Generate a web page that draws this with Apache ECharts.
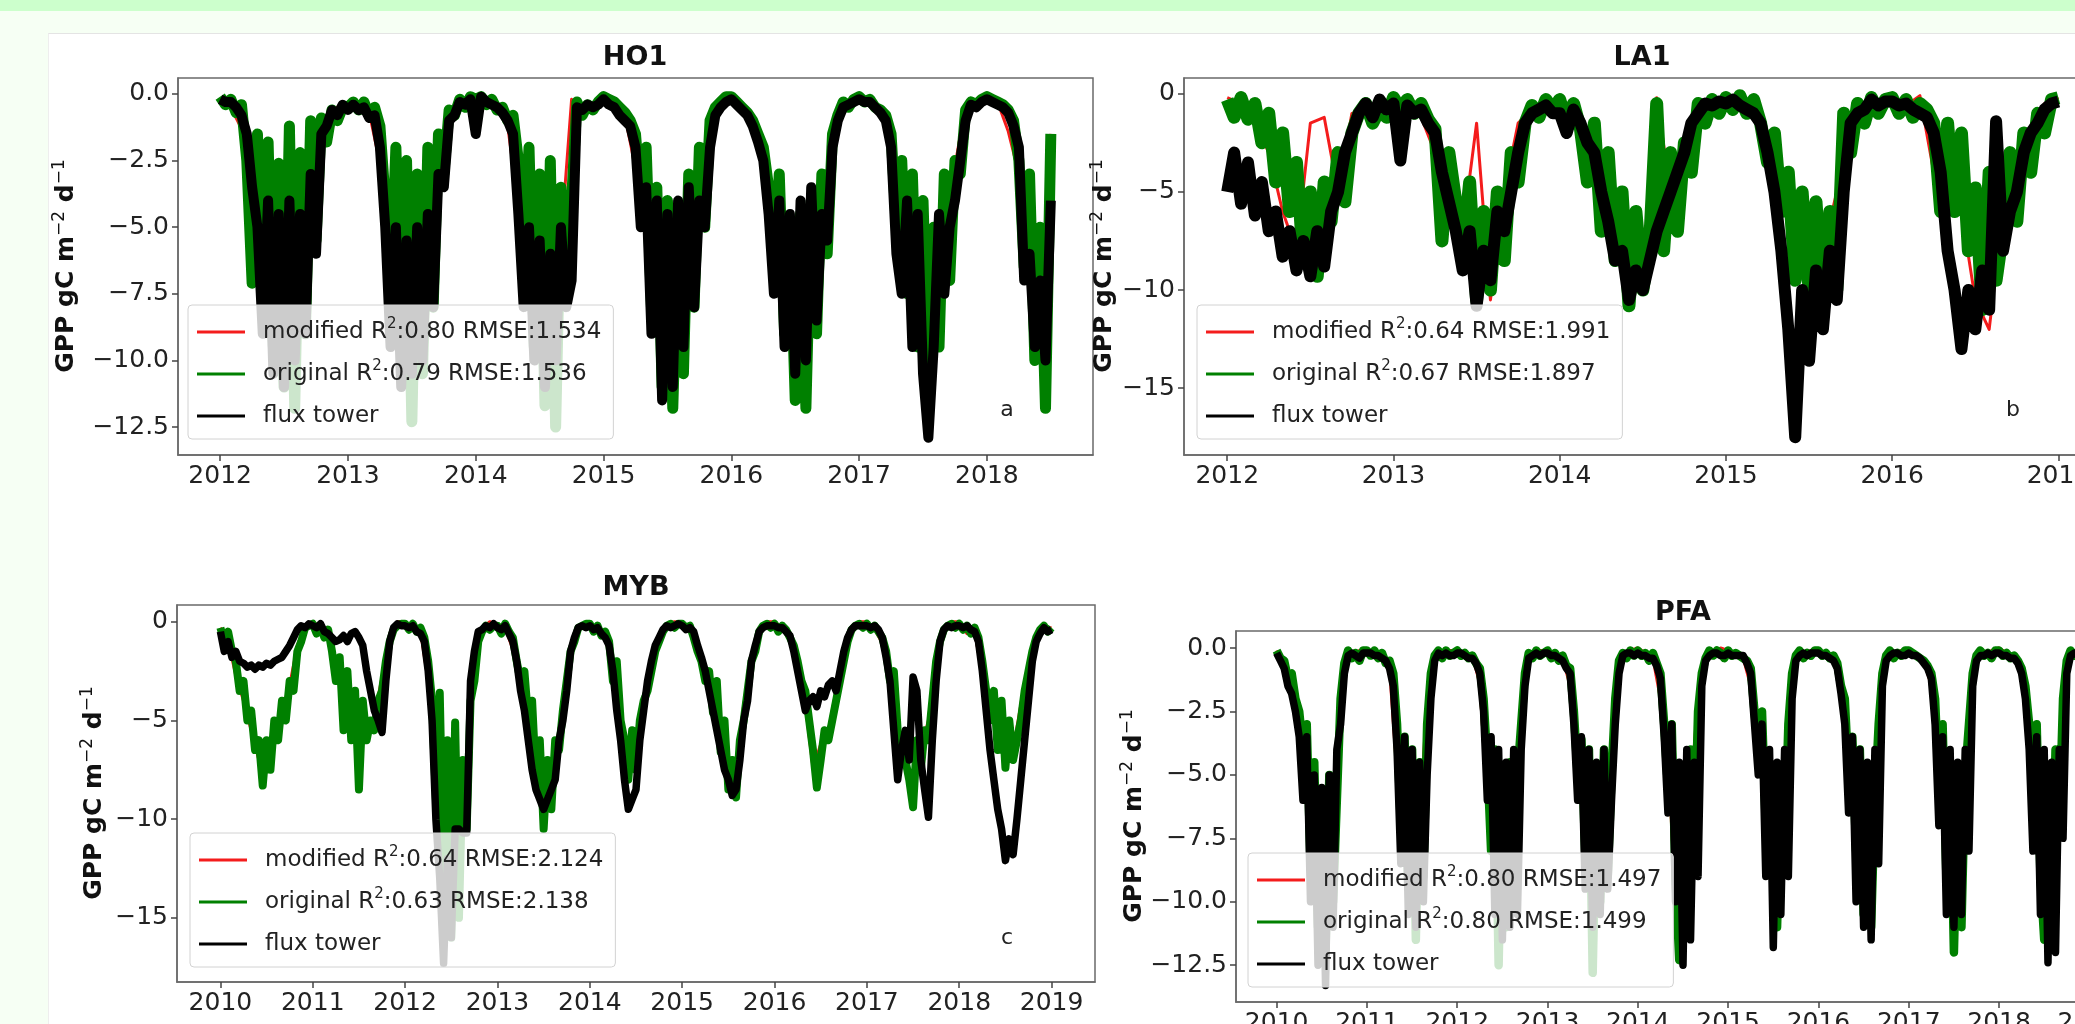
<!DOCTYPE html>
<html>
<head>
<meta charset="utf-8">
<script src="https://cdn.jsdelivr.net/npm/echarts@6/dist/echarts.min.js"></script>
<style>
html,body{margin:0;padding:0;width:2075px;height:1024px;overflow:hidden;background:#f6fff4;}
#band{position:absolute;left:0;top:0;width:2075px;height:11px;background:#ccffcc;}
#panel{position:absolute;left:48px;top:33px;width:2027px;height:991px;background:#ffffff;border-top:1px solid #e4e4e4;border-left:1px solid #eeeeee;}
#chart{position:absolute;left:0;top:0;width:2200px;height:1024px;}
</style>
</head>
<body>
<div id="band"></div>
<div id="panel"></div>
<div id="chart"></div>
<script>
// ---------- tick labels ----------
const ho1XTicks = [2012, 2013, 2014, 2015, 2016, 2017, 2018];
const la1XTicks = [2012, 2013, 2014, 2015, 2016, 2017];
const mybXTicks = [2010, 2011, 2012, 2013, 2014, 2015, 2016, 2017, 2018, 2019];
const pfaXTicks = [2010, 2011, 2012, 2013, 2014, 2015, 2016, 2017, 2018, 2019];
const ho1YTicks = [0, -2.5, -5, -7.5, -10, -12.5];
const la1YTicks = [0, -5, -10, -15];
const mybYTicks = [0, -5, -10, -15];
const pfaYTicks = [0, -2.5, -5, -7.5, -10, -12.5];

// ---------- legend labels ----------
const ho1Labels = ['modified R²:0.80 RMSE:1.534', 'original R²:0.79 RMSE:1.536', 'flux tower'];
const la1Labels = ['modified R²:0.64 RMSE:1.991', 'original R²:0.67 RMSE:1.897', 'flux tower'];
const mybLabels = ['modified R²:0.64 RMSE:2.124', 'original R²:0.63 RMSE:2.138', 'flux tower'];
const pfaLabels = ['modified R²:0.80 RMSE:1.497', 'original R²:0.80 RMSE:1.499', 'flux tower'];

// ---------- series values (GPP, gC m-2 d-1) ----------
// original & flux tower: twice a month from 1 Jan of the start year; modified: monthly
const ho1Original = [
-0.1,-0.4,-0.2,-0.7,-0.4,-2.5,-7.1,-1.5,-7.6,-1.8,-9.5,-2.6,-11.0,-1.2,-11.8,-2.2,-9.0,-1.0,-5.5,-0.9,-1.8,-0.6,-1.0,-0.5,
-0.5,-0.3,-0.6,-0.3,-0.8,-0.5,-1.2,-4.0,-7.5,-2.0,-9.0,-2.5,-12.3,-3.0,-10.5,-2.0,-8.0,-1.5,-3.0,-0.6,-0.8,-0.2,-0.5,-0.1,
-0.2,-0.1,-0.4,-0.2,-0.6,-0.5,-1.0,-0.8,-2.5,-6.0,-2.0,-9.5,-3.0,-11.7,-2.5,-12.5,-3.5,-7.5,-4.0,-0.3,-0.8,-0.4,-0.6,-0.3,
-0.1,-0.2,-0.3,-0.5,-0.7,-1.0,-1.5,-4.0,-2.0,-8.0,-3.5,-11.0,-4.0,-11.8,-5.0,-10.5,-3.0,-8.0,-2.0,-5.0,-1.0,-0.5,-0.3,-0.1,
-0.1,-0.3,-0.5,-0.7,-1.0,-1.5,-2.0,-3.5,-6.5,-3.0,-9.0,-5.0,-11.5,-4.5,-11.8,-4.0,-9.0,-3.0,-6.0,-1.5,-0.8,-0.3,-0.5,-0.2,
-0.1,-0.3,-0.2,-0.5,-0.6,-0.8,-1.5,-5.0,-2.5,-7.5,-3.0,-9.5,-4.0,-11.0,-5.0,-9.5,-3.0,-7.0,-2.5,-3.0,-0.6,-0.3,-0.4,-0.2,
-0.1,-0.2,-0.3,-0.4,-0.6,-1.0,-2.5,-6.5,-3.0,-10.0,-5.0,-11.8,-1.5
];
const ho1Tower = [
-0.2,-0.3,-0.3,-0.5,-0.8,-1.5,-3.5,-5.0,-9.0,-4.0,-10.5,-4.5,-11.0,-4.0,-10.0,-4.5,-9.0,-3.0,-6.0,-1.5,-1.2,-0.6,-0.8,-0.4,
-0.6,-0.4,-0.6,-0.5,-0.9,-0.8,-2.0,-5.0,-9.5,-5.0,-11.0,-5.5,-10.5,-5.0,-10.0,-4.5,-8.0,-3.0,-3.5,-1.0,-0.8,-0.3,-0.4,-0.2,
-1.5,-0.1,-0.3,-0.4,-0.5,-0.7,-1.0,-1.5,-4.5,-8.0,-5.0,-10.0,-5.5,-11.0,-6.0,-10.0,-5.0,-8.0,-7.0,-0.5,-0.6,-0.4,-0.5,-0.4,
-0.2,-0.4,-0.5,-0.8,-1.0,-1.2,-2.0,-5.0,-3.5,-9.0,-4.0,-11.5,-4.5,-11.0,-4.0,-9.5,-3.5,-8.0,-4.0,-5.0,-2.0,-0.8,-0.5,-0.3,
-0.2,-0.4,-0.6,-0.8,-1.2,-1.8,-2.5,-4.5,-7.5,-4.0,-9.5,-4.5,-10.5,-4.0,-10.0,-3.5,-8.5,-4.5,-5.5,-2.0,-1.0,-0.5,-0.4,-0.3,
-0.2,-0.3,-0.3,-0.5,-0.7,-1.0,-2.0,-6.0,-7.5,-4.0,-9.5,-4.5,-10.5,-12.9,-9.5,-4.5,-7.5,-5.0,-4.0,-2.5,-1.0,-0.4,-0.5,-0.3,
-0.2,-0.3,-0.4,-0.5,-0.7,-1.2,-2.0,-7.0,-6.0,-9.5,-7.0,-10.0,-4.0
];
const ho1Modified = [
-0.2,-0.5,-1.3,-3.0,-4.7,-6.0,-6.1,-7.0,-5.0,-2.5,-1.2,-0.5,
-0.4,-0.5,-0.7,-2.6,-4.8,-5.8,-7.6,-6.0,-4.8,-1.8,-0.4,-0.2,
-0.2,-0.3,-0.6,-1.2,-4.2,-5.8,-7.3,-7.5,-5.5,-0.2,-0.6,-0.4,
-0.2,-0.4,-0.8,-2.8,-5.0,-7.2,-7.9,-7.8,-5.5,-3.5,-0.75,-0.2,
-0.3,-0.5,-1.0,-2.8,-4.8,-7.0,-8.0,-7.9,-6.0,-3.8,-0.55,-0.3,
-0.2,-0.3,-0.6,-1.8,-5.0,-6.2,-7.5,-7.2,-5.0,-2.7,-0.4,-0.3,
-0.2,-0.3,-1.4,-3.0,-6.5,-8.4,-1.5
];

const la1Original = [
-0.3,-1.2,-0.2,-1.3,-0.5,-2.5,-1.0,-4.5,-2.0,-6.0,-3.5,-8.5,-5.0,-9.3,-4.5,-6.5,-3.0,-5.5,-2.0,-1.0,-0.5,-1.5,-0.8,-1.2,
-0.2,-0.8,-0.3,-1.0,-0.5,-1.3,-1.8,-7.5,-3.0,-5.5,-8.0,-4.5,-10.5,-6.0,-10.0,-5.0,-8.5,-3.0,-4.5,-1.5,-0.6,-1.2,-0.3,-0.8,
-0.3,-1.5,-0.5,-1.8,-4.5,-1.5,-7.0,-3.0,-8.5,-5.0,-10.8,-6.0,-10.0,-7.5,-0.5,-8.0,-3.0,-7.0,-2.5,-4.0,-0.5,-1.5,-0.3,-1.0,
-0.2,-0.8,-0.1,-1.0,-0.3,-1.5,-3.5,-2.0,-6.0,-4.0,-9.5,-5.0,-10.0,-5.5,-11.0,-6.0,-10.0,-1.0,-3.0,-0.5,-1.5,-0.2,-1.0,-0.3,
-0.2,-1.0,-0.3,-1.2,-0.5,-0.8,-1.5,-6.0,-1.5,-6.0,-2.0,-8.0,-4.8,-11.0,-4.0,-9.5,-7.0,-3.0,-6.5,-2.0,-4.0,-1.0,-2.0,-0.3,
-0.2
];
const la1Tower = [
-5.0,-3.0,-5.6,-3.5,-6.2,-4.5,-7.0,-6.0,-8.3,-7.0,-9.0,-7.5,-9.3,-7.0,-8.8,-6.0,-5.0,-3.0,-2.0,-1.0,-0.5,-1.2,-0.3,-0.8,
-0.5,-3.4,-0.6,-1.0,-0.8,-1.5,-2.0,-4.0,-5.5,-7.0,-9.0,-7.0,-10.8,-8.0,-9.5,-6.0,-7.0,-5.0,-3.0,-1.5,-1.0,-0.8,-0.6,-1.0,
-1.0,-2.0,-0.8,-1.5,-2.5,-3.0,-5.0,-6.5,-8.5,-8.0,-10.5,-9.0,-10.0,-8.5,-7.0,-6.0,-5.0,-4.0,-3.0,-1.5,-1.0,-0.5,-0.6,-0.4,
-0.5,-0.3,-0.6,-0.8,-1.0,-1.5,-3.0,-5.0,-8.0,-12.0,-17.5,-10.0,-13.6,-9.0,-12.0,-8.0,-10.5,-5.0,-1.5,-1.0,-0.8,-0.3,-0.6,-0.4,
-0.4,-0.6,-0.5,-0.8,-1.0,-1.2,-2.0,-4.0,-8.0,-10.0,-13.0,-10.0,-12.0,-9.0,-11.0,-1.4,-8.0,-6.0,-5.0,-3.0,-2.0,-1.5,-0.8,-0.5,
-0.4
];
const la1Modified = [
-0.2,-0.5,-1.5,-3.0,-6.0,-8.0,-1.5,-1.2,-5.0,-1.0,-0.8,-0.5,
-0.5,-0.8,-1.2,-3.0,-5.0,-7.0,-1.5,-10.5,-5.0,-1.5,-0.8,-0.5,
-0.5,-1.0,-3.0,-6.0,-7.0,-8.5,-9.0,-0.2,-5.0,-3.0,-0.8,-0.5,
-0.4,-0.6,-1.0,-2.8,-5.0,-7.5,-8.0,-8.0,-5.0,-1.8,-0.6,-0.4,
-0.3,-0.6,-0.1,-4.0,-4.0,-6.0,-10.5,-12.0,-6.0,-3.0,-2.0,-0.5,
-0.2
];

const mybOriginal = [
-0.3,-1.0,-0.5,-1.5,-2.0,-3.5,-3.0,-5.0,-4.5,-6.5,-6.0,-8.3,-6.0,-7.5,-5.0,-6.0,-4.0,-5.0,-3.0,-3.5,-1.5,-1.0,-0.3,-0.2,
-0.1,-0.6,-0.2,-0.8,-0.4,-1.5,-3.0,-1.8,-5.5,-2.5,-6.0,-3.5,-8.5,-4.0,-6.0,-5.0,-5.5,-4.0,-3.5,-2.0,-1.0,-0.4,-0.2,-0.1,
-0.1,-0.4,-0.1,-0.5,-0.3,-0.8,-2.0,-4.0,-9.0,-3.6,-13.0,-6.0,-16.0,-5.1,-15.0,-7.0,-10.5,-4.0,-3.0,-1.0,-0.5,-0.2,-0.4,-0.2,
-0.2,-0.6,-0.1,-0.5,-0.8,-2.0,-3.0,-2.5,-5.0,-4.0,-8.0,-6.0,-10.5,-7.0,-9.5,-6.0,-6.5,-4.5,-3.0,-1.5,-1.0,-0.3,-0.2,-0.1,
-0.1,-0.5,-0.2,-0.7,-0.5,-1.0,-3.0,-2.0,-5.0,-6.0,-8.0,-5.5,-7.5,-5.0,-4.0,-3.5,-2.5,-1.5,-1.0,-0.5,-0.2,-0.1,-0.3,-0.1,
-0.1,-0.3,-0.2,-0.8,-1.5,-2.0,-3.0,-2.5,-4.6,-3.0,-6.6,-5.0,-8.5,-7.0,-8.9,-6.0,-5.0,-3.5,-2.0,-1.5,-0.5,-0.2,-0.1,-0.3,
-0.1,-0.5,-0.2,-0.4,-0.8,-1.2,-2.0,-3.0,-3.5,-5.0,-6.5,-8.4,-7.0,-5.5,-6.0,-5.0,-4.0,-3.0,-2.0,-1.0,-0.4,-0.2,-0.1,-0.3,
-0.1,-0.4,-0.2,-0.5,-0.8,-1.5,-3.0,-2.5,-5.5,-6.5,-7.0,-8.0,-9.4,-6.0,-7.5,-5.5,-6.0,-4.0,-2.0,-1.0,-0.4,-0.2,-0.1,-0.3,
-0.1,-0.4,-0.2,-0.6,-0.3,-0.8,-2.0,-3.5,-5.0,-3.5,-6.5,-4.0,-7.4,-5.0,-7.0,-6.0,-5.0,-3.5,-2.5,-1.5,-0.8,-0.4,-0.2,-0.5,
-0.3
];
const mybTower = [
-0.5,-1.5,-1.0,-1.8,-1.5,-2.0,-2.1,-2.3,-2.2,-2.4,-2.2,-2.3,-2.1,-2.2,-2.0,-1.9,-1.8,-1.5,-1.2,-0.8,-0.4,-0.2,-0.3,-0.1,
-0.2,-0.3,-0.1,-0.5,-0.6,-0.8,-1.0,-0.9,-0.7,-1.0,-0.6,-0.5,-0.8,-1.2,-2.5,-3.5,-4.5,-5.0,-5.6,-3.0,-1.0,-0.3,-0.1,-0.2,
-0.2,-0.3,-0.2,-0.5,-0.6,-1.0,-2.5,-5.0,-10.0,-13.0,-17.3,-12.0,-16.0,-10.5,-10.5,-10.7,-10.7,-3.0,-1.5,-0.5,-0.4,-0.2,-0.3,-0.1,
-0.3,-0.4,-0.2,-0.6,-1.0,-2.0,-3.5,-4.5,-6.0,-7.5,-8.5,-9.0,-9.5,-9.0,-8.5,-8.0,-6.0,-5.0,-3.5,-1.5,-0.8,-0.3,-0.2,-0.3,
-0.2,-0.4,-0.3,-0.6,-0.8,-1.2,-2.5,-4.5,-6.0,-8.0,-9.5,-9.0,-8.5,-6.0,-4.5,-3.0,-2.0,-1.2,-0.8,-0.4,-0.2,-0.3,-0.2,-0.1,
-0.2,-0.4,-0.3,-0.5,-1.2,-1.8,-2.5,-3.5,-4.5,-5.5,-6.5,-7.5,-8.0,-8.8,-8.5,-7.0,-5.0,-4.0,-2.0,-1.2,-0.5,-0.3,-0.2,-0.2,
-0.2,-0.3,-0.3,-0.5,-0.7,-1.5,-2.5,-3.5,-4.5,-4.0,-3.8,-4.3,-3.5,-3.8,-3.2,-3.0,-3.5,-2.5,-1.5,-0.8,-0.4,-0.2,-0.2,-0.2,
-0.2,-0.3,-0.2,-0.4,-0.8,-1.8,-3.0,-5.5,-8.0,-6.5,-5.5,-7.0,-2.8,-3.5,-7.0,-8.5,-9.9,-6.0,-3.0,-1.0,-0.4,-0.2,-0.3,-0.2,
-0.2,-0.3,-0.2,-0.4,-0.5,-1.0,-2.5,-4.5,-6.5,-8.0,-9.5,-10.5,-12.1,-11.0,-11.8,-10.0,-8.0,-6.0,-4.0,-2.0,-1.0,-0.6,-0.3,-0.5,
-0.4
];
const mybModified = [
-0.3,-1.0,-2.7,-4.0,-5.5,-7.0,-6.8,-5.5,-4.5,-3.2,-1.2,-0.3,
0.0,-0.3,-0.9,-2.4,-4.0,-4.8,-6.0,-5.5,-4.8,-2.8,-0.6,0.0,
0.0,-0.3,-0.5,-3.0,-6.5,-9.5,-10.5,-11.0,-7.0,-2.0,-0.3,0.0,
-0.1,-0.3,-1.4,-3.0,-4.5,-7.0,-10.0,-7.8,-5.5,-2.2,-0.6,-0.1,
-0.1,-0.4,-0.8,-2.5,-5.5,-6.8,-6.2,-3.8,-2.0,-0.8,-0.1,0.0,
0.0,-0.5,-1.7,-2.8,-3.8,-5.8,-7.8,-7.5,-4.2,-1.8,-0.3,0.0,
0.0,-0.3,-1.0,-2.5,-4.2,-7.4,-6.2,-5.5,-3.5,-1.5,-0.3,0.0,
0.0,-0.35,-1.1,-2.7,-6.0,-7.5,-7.7,-6.5,-5.0,-1.5,-0.3,0.0,
0.0,-0.6,-0.5,-2.7,-4.2,-5.2,-6.2,-6.5,-4.2,-2.0,-0.6,-0.3,
-0.3
];

const pfaOriginal = [
-0.1,-0.4,-0.5,-1.2,-1.0,-2.0,-2.5,-4.0,-3.0,-8.5,-4.5,-11.0,-6.0,-12.0,-5.0,-10.0,-6.0,-2.0,-0.6,-0.1,-0.4,-0.2,-0.5,-0.1,
-0.1,-0.3,-0.1,-0.4,-0.2,-0.6,-0.5,-1.0,-3.0,-7.0,-3.5,-9.5,-4.0,-11.5,-4.5,-9.0,-3.0,-1.0,-0.3,-0.1,-0.4,-0.1,-0.3,-0.2,
-0.1,-0.3,-0.2,-0.4,-0.3,-0.6,-0.8,-2.0,-4.5,-8.0,-4.0,-12.5,-5.0,-11.0,-4.5,-10.0,-5.0,-3.0,-1.0,-0.2,-0.4,-0.1,-0.3,-0.2,
-0.1,-0.4,-0.2,-0.5,-0.3,-0.7,-0.8,-2.5,-5.0,-3.6,-8.0,-4.0,-12.8,-5.5,-10.0,-4.0,-9.0,-5.0,-2.0,-0.5,-0.2,-0.4,-0.1,-0.3,
-0.1,-0.3,-0.2,-0.5,-0.2,-0.6,-1.0,-3.0,-5.5,-3.0,-9.0,-12.3,-6.0,-11.0,-4.0,-8.0,-2.5,-1.0,-0.4,-0.1,-0.3,-0.1,-0.2,-0.4,
-0.1,-0.3,-0.2,-0.3,-0.4,-0.5,-0.8,-2.5,-4.0,-2.5,-7.0,-5.0,-9.0,-11.0,-6.0,-8.0,-3.0,-1.0,-0.3,-0.1,-0.4,-0.2,-0.3,-0.1,
-0.1,-0.3,-0.2,-0.4,-0.3,-0.6,-1.5,-2.0,-5.0,-3.5,-8.0,-4.0,-10.5,-5.0,-11.0,-6.0,-3.0,-1.0,-0.3,-0.1,-0.4,-0.2,-0.3,-0.1,
-0.1,-0.2,-0.3,-0.4,-0.5,-0.7,-1.0,-2.0,-5.5,-3.0,-9.0,-5.0,-12.0,-6.0,-11.0,-5.0,-3.0,-1.0,-0.3,-0.1,-0.3,-0.2,-0.4,-0.1,
-0.1,-0.3,-0.2,-0.4,-0.3,-0.5,-0.8,-1.5,-3.0,-6.0,-3.0,-9.0,-11.5,-5.0,-10.0,-4.0,-7.0,-2.0,-0.5,-0.1,-0.3,-0.2,-0.4,-0.2,
-0.2
];
const pfaTower = [
-0.2,-0.5,-0.8,-1.5,-1.8,-2.5,-3.5,-6.0,-3.5,-10.0,-5.0,-12.5,-5.5,-13.3,-5.0,-11.0,-4.0,-3.0,-1.0,-0.3,-0.2,-0.3,-0.4,-0.2,
-0.2,-0.2,-0.3,-0.3,-0.4,-0.5,-0.8,-1.5,-4.0,-8.5,-3.5,-10.5,-4.0,-11.0,-4.5,-10.0,-5.0,-2.0,-0.5,-0.2,-0.3,-0.2,-0.3,-0.3,
-0.2,-0.2,-0.3,-0.4,-0.4,-0.6,-1.0,-2.5,-6.0,-3.5,-10.5,-4.0,-11.5,-4.5,-11.0,-4.0,-10.5,-4.0,-1.5,-0.4,-0.3,-0.2,-0.3,-0.2,
-0.2,-0.3,-0.3,-0.4,-0.5,-0.8,-1.0,-3.0,-6.0,-3.5,-9.5,-4.0,-11.0,-4.5,-10.5,-4.0,-9.5,-6.0,-3.0,-1.0,-0.3,-0.2,-0.2,-0.3,
-0.2,-0.3,-0.3,-0.4,-0.4,-0.7,-1.2,-3.5,-6.5,-3.0,-10.0,-4.5,-12.5,-4.0,-11.5,-4.5,-9.0,-1.5,-0.5,-0.3,-0.2,-0.2,-0.3,-0.3,
-0.2,-0.3,-0.3,-0.3,-0.3,-0.6,-1.0,-3.0,-5.0,-3.0,-9.0,-4.0,-11.8,-4.5,-10.5,-4.0,-9.0,-2.0,-0.5,-0.3,-0.2,-0.3,-0.2,-0.2,
-0.2,-0.3,-0.3,-0.4,-0.5,-0.8,-1.8,-3.0,-6.5,-3.5,-10.0,-4.0,-11.0,-4.5,-11.5,-4.0,-8.5,-1.5,-0.5,-0.3,-0.2,-0.2,-0.3,-0.3,
-0.2,-0.3,-0.3,-0.4,-0.6,-0.8,-1.2,-3.0,-7.0,-3.5,-10.5,-4.0,-11.0,-4.5,-10.5,-4.0,-8.0,-1.5,-0.5,-0.3,-0.3,-0.2,-0.3,-0.2,
-0.2,-0.3,-0.3,-0.4,-0.4,-0.6,-1.0,-2.0,-4.0,-8.0,-3.5,-10.5,-4.0,-12.4,-4.5,-12.0,-4.0,-7.5,-1.0,-0.3,-0.2,-0.3,-0.3,-0.2,
-0.3
];
const pfaModified = [
-0.1,-0.8,-1.5,-3.0,-6.0,-8.0,-9.0,-7.5,-4.0,-0.4,-0.3,-0.1,
-0.1,-0.2,-0.4,-0.8,-5.0,-6.5,-7.5,-6.8,-2.0,-0.2,-0.2,-0.1,
-0.1,-0.2,-0.3,-1.4,-6.2,-8.0,-8.0,-7.0,-4.0,-0.6,-0.2,-0.1,
-0.1,-0.2,-0.4,-1.5,-4.3,-6.0,-9.5,-7.0,-7.0,-1.2,-0.2,-0.1,
0.0,-0.2,-0.4,-2.0,-4.2,-10.0,-8.5,-6.0,-1.8,-0.2,-0.2,0.0,
-0.1,-0.2,-0.4,-1.5,-3.2,-6.0,-10.0,-7.0,-2.0,-0.2,-0.3,-0.1,
-0.1,-0.2,-0.5,-1.8,-4.2,-6.0,-7.8,-8.5,-2.0,-0.2,-0.2,-0.1,
-0.1,-0.2,-0.5,-1.5,-4.2,-7.0,-9.0,-8.0,-2.0,-0.2,-0.3,-0.1,
0.0,-0.2,-0.4,-1.0,-4.5,-6.0,-8.2,-7.0,-4.5,-0.3,-0.2,-0.1,
-0.2
];

// ---------- layout ----------
const FONT = '"DejaVu Sans"';
const HALF_MONTH = 1 / 24, MONTH = 1 / 12;
const RED = '#f41c1c', GREEN = '#008000', BLACK = '#000000';

const panels = [
  { key: 'a', title: 'HO1', start: 2012, grid: { left: 178, top: 78, width: 915, height: 377 },
    x: [2011.67, 2018.83], y: [-13.55, 0.6], xt: ho1XTicks, yt: ho1YTicks, dec: 1,
    mod: ho1Modified, org: ho1Original, tow: ho1Tower, labels: ho1Labels, widths: [3, 11, 10],
    leg: { left: 188, top: 305 }, letter: [1007, 410], ylab: [66, 266], tpos: [635, 58] },
  { key: 'b', title: 'LA1', start: 2012, grid: { left: 1184, top: 78, width: 916, height: 377 },
    x: [2011.74, 2017.25], y: [-18.4, 0.8], xt: la1XTicks, yt: la1YTicks, dec: 0,
    mod: la1Modified, org: la1Original, tow: la1Tower, labels: la1Labels, widths: [3, 13, 12],
    leg: { left: 1197, top: 305 }, letter: [2013, 410], ylab: [1104, 266], tpos: [1642, 58] },
  { key: 'c', title: 'MYB', start: 2010, grid: { left: 177, top: 605, width: 918, height: 377 },
    x: [2009.53, 2019.47], y: [-18.25, 0.85], xt: mybXTicks, yt: mybYTicks, dec: 0,
    mod: mybModified, org: mybOriginal, tow: mybTower, labels: mybLabels, widths: [3, 8, 7.5],
    leg: { left: 190, top: 833 }, letter: [1007, 938], ylab: [94, 793], tpos: [636, 588] },
  { key: 'd', title: 'PFA', start: 2010, grid: { left: 1236, top: 631, width: 894, height: 371 },
    x: [2009.55, 2019.45], y: [-13.95, 0.67], xt: pfaXTicks, yt: pfaYTicks, dec: 1,
    mod: pfaModified, org: pfaOriginal, tow: pfaTower, labels: pfaLabels, widths: [3, 8.5, 7.5],
    leg: { left: 1248, top: 853 }, letter: null, ylab: [1134, 816], tpos: [1683, 613] }
];

function pairs(start, step, arr) { return arr.map((v, i) => [start + i * step, v]); }
function fmtY(dec) { return v => (dec ? Number(v).toFixed(1) : String(Math.round(v))).replace('-', '\u2212'); }
function legendText(n) {
  const t = n.split('|')[1];
  const k = t.indexOf('R²');
  if (k < 0) return '{n|' + t + '}';
  return '{n|' + t.slice(0, k) + 'R}{s|2}{n|' + t.slice(k + 2) + '}';
}

const grids = [], xAxes = [], yAxes = [], series = [], legends = [], graphics = [];
panels.forEach((p, i) => {
  grids.push(Object.assign({ show: true, borderColor: '#6a6a6a', borderWidth: 1.5, backgroundColor: 'transparent',
    containLabel: false, outerBoundsMode: 'none' }, p.grid));
  xAxes.push({
    type: 'value', gridIndex: i, min: p.x[0], max: p.x[1],
    axisLine: { show: true, onZero: false, lineStyle: { color: '#6a6a6a', width: 1.5 } },
    axisTick: { show: true, length: 6, customValues: p.xt, lineStyle: { color: '#444', width: 1.5 } },
    axisLabel: { customValues: p.xt, formatter: v => String(Math.round(v)), fontFamily: FONT, fontSize: 25, color: '#222', margin: 9 },
    splitLine: { show: false }
  });
  yAxes.push({
    type: 'value', gridIndex: i, min: p.y[0], max: p.y[1],
    axisLine: { show: true, onZero: false, lineStyle: { color: '#6a6a6a', width: 1.5 } },
    axisTick: { show: true, length: 6, customValues: p.yt, lineStyle: { color: '#444', width: 1.5 } },
    axisLabel: { customValues: p.yt, formatter: fmtY(p.dec), fontFamily: FONT, fontSize: 25, color: '#222', margin: 9 },
    splitLine: { show: false }
  });
  const names = p.labels.map(l => p.key + '|' + l);
  const defs = [[p.mod, MONTH, RED], [p.org, HALF_MONTH, GREEN], [p.tow, HALF_MONTH, BLACK]];
  defs.forEach((d, k) => {
    series.push({
      type: 'line', name: names[k], xAxisIndex: i, yAxisIndex: i,
      data: pairs(p.start, d[1], d[0]), showSymbol: false, symbol: 'none',
      color: d[2], itemStyle: { color: d[2] }, lineStyle: { color: d[2], width: p.widths[k], join: 'round' },
      animation: false, silent: true, z: 2
    });
  });
  legends.push({
    show: true, orient: 'vertical', left: p.leg.left, top: p.leg.top, selectedMode: false,
    data: names, icon: 'rect', itemWidth: 48, itemHeight: 3, itemGap: 12,
    padding: [12, 12, 8, 9], backgroundColor: 'rgba(255,255,255,0.8)',
    borderColor: '#d2d2d2', borderWidth: 1, borderRadius: 4, z: 10,
    formatter: legendText,
    textStyle: {
      fontFamily: FONT, fontSize: 23, color: '#222', lineHeight: 30, padding: [0, 0, 0, 13],
      rich: {
        n: { fontFamily: FONT, fontSize: 23, color: '#222', lineHeight: 30 },
        s: { fontFamily: FONT, fontSize: 15, color: '#222', lineHeight: 16, verticalAlign: 'top' }
      }
    }
  });
  graphics.push({
    type: 'text', x: p.tpos[0], y: p.tpos[1], z: 20,
    style: { text: p.title, font: 'bold 27px ' + FONT, fill: '#111', align: 'center', verticalAlign: 'middle' }
  });
  graphics.push({
    type: 'text', x: p.ylab[0], y: p.ylab[1], rotation: Math.PI / 2, z: 20,
    style: {
      text: '{b|GPP gC m}{s|\u22122}{b| d}{s|\u22121}', align: 'center', verticalAlign: 'middle', fill: '#111',
      rich: {
        b: { font: 'bold 25px ' + FONT, lineHeight: 30, fill: '#111' },
        s: { font: '17px ' + FONT, lineHeight: 17, verticalAlign: 'top', fill: '#111' }
      }
    }
  });
  if (p.letter) {
    graphics.push({
      type: 'text', x: p.letter[0], y: p.letter[1], z: 20,
      style: { text: p.key, font: '22px ' + FONT, fill: '#222', align: 'center', verticalAlign: 'middle' }
    });
  }
});

const chart = echarts.init(document.getElementById('chart'), null, { renderer: 'canvas' });
chart.setOption({
  backgroundColor: 'transparent',
  animation: false,
  grid: grids, xAxis: xAxes, yAxis: yAxes,
  legend: legends, series: series, graphic: graphics
});
</script>
</body>
</html>
